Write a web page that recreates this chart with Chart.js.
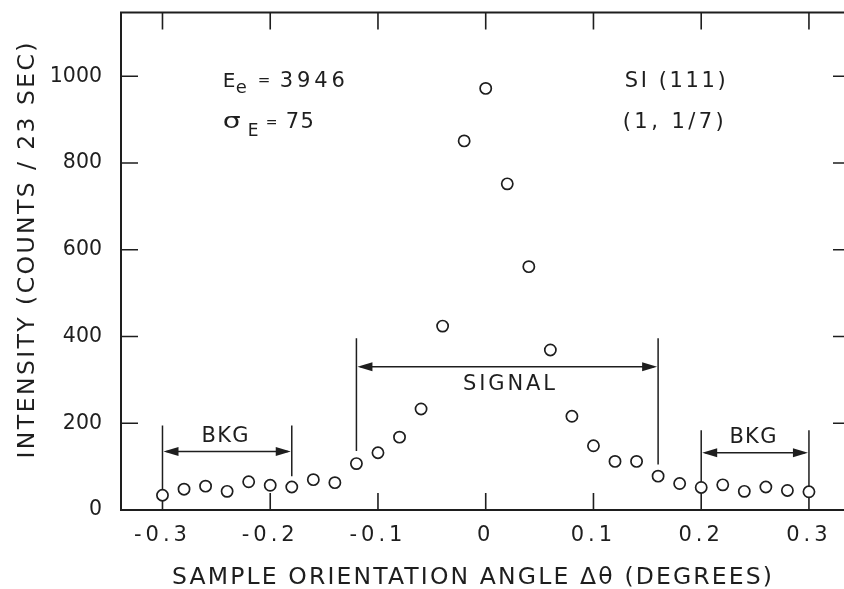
<!DOCTYPE html>
<html>
<head>
<meta charset="utf-8">
<script src="https://cdn.jsdelivr.net/npm/chart.js@4.4.1/dist/chart.umd.min.js"></script>
<style>
  html, body { margin: 0; padding: 0; background: #fff; overflow: hidden; width: 844px; height: 589px; }
  #wrap { width: 844px; height: 589px; overflow: hidden; position: relative; }
  #chart { position: absolute; left: 0; top: 0; }
</style>
</head>
<body>
<div id="wrap"><canvas id="chart" width="860" height="589"></canvas></div>
<script>
// Rocking curve: intensity vs. sample orientation angle
const angles = [-0.30, -0.28, -0.26, -0.24, -0.22, -0.20, -0.18, -0.16, -0.14, -0.12,
                -0.10, -0.08, -0.06, -0.04, -0.02, 0.00, 0.02, 0.04, 0.06, 0.08,
                 0.10, 0.12, 0.14, 0.16, 0.18, 0.20, 0.22, 0.24, 0.26, 0.28, 0.30];
const intensity = [34, 48, 55, 43, 65, 57, 53, 70, 63, 107,
                   132, 168, 233, 424, 851, 972, 752, 561, 369, 216,
                   148, 112, 112, 78, 61, 52, 58, 43, 53, 45, 42];

const xTickValues = [-0.3, -0.2, -0.1, 0, 0.1, 0.2, 0.3];
const xTickLabels = ['-0.3', '-0.2', '-0.1', '0', '0.1', '0.2', '0.3'];
const yTickValues = [0, 200, 400, 600, 800, 1000];
const yTickLabels = ['0', '200', '400', '600', '800', '1000'];

// Integration windows (angle limits, in degrees)
const signalWindow = [-0.12, 0.16];
const bkgLeftWindow = [-0.30, -0.18];
const bkgRightWindow = [0.20, 0.30];

const INK = '#1e1e1e';
const FONT = '"DejaVu Sans", Verdana, sans-serif';
const TICK_LEN = 17;

// Draws text spread out to a given overall width (lettering-style spacing)
function fitText(ctx, str, x, y, size, width, align) {
  ctx.save();
  ctx.font = size + 'px ' + FONT;
  ctx.letterSpacing = '0px';
  const n = [...str].length;
  const w0 = ctx.measureText(str).width;
  const spacing = n > 1 && width ? Math.max((width - w0) / (n - 1), 0) : 0;
  const w = w0 + spacing * (n - 1);
  ctx.letterSpacing = spacing + 'px';
  ctx.textAlign = 'left';
  ctx.textBaseline = 'alphabetic';
  ctx.fillStyle = INK;
  let sx = x;
  if (align === 'center') sx = x - w / 2;
  else if (align === 'right') sx = x - w;
  ctx.fillText(str, sx, y);
  ctx.restore();
  return w;
}

function arrowHead(ctx, x, y, dir) {
  // dir = -1 points left, +1 points right
  const len = 15, half = 4.5;
  ctx.beginPath();
  ctx.moveTo(x, y);
  ctx.lineTo(x - dir * len, y - half);
  ctx.lineTo(x - dir * len, y + half);
  ctx.closePath();
  ctx.fill();
}

function bracket(ctx, xs, ys, win, topVal, arrowVal, bottoms) {
  const x0 = xs.getPixelForValue(win[0]);
  const x1 = xs.getPixelForValue(win[1]);
  const yt = ys.getPixelForValue(topVal);
  const ya = ys.getPixelForValue(arrowVal);
  ctx.beginPath();
  ctx.moveTo(x0, yt); ctx.lineTo(x0, ys.getPixelForValue(bottoms[0]));
  ctx.moveTo(x1, yt); ctx.lineTo(x1, ys.getPixelForValue(bottoms[1]));
  ctx.moveTo(x0 + 4, ya); ctx.lineTo(x1 - 4, ya);
  ctx.stroke();
  arrowHead(ctx, x0 + 1, ya, -1);
  arrowHead(ctx, x1 - 1, ya, 1);
}

// Box frame, inward ticks and the integration brackets (under the points)
const framePlugin = {
  id: 'frame',
  beforeDatasetsDraw(chart) {
    const { ctx, chartArea: a, scales: { x, y } } = chart;
    ctx.save();
    ctx.strokeStyle = INK;
    ctx.fillStyle = INK;
    ctx.lineWidth = 2;
    ctx.strokeRect(a.left, a.top, a.right - a.left, a.bottom - a.top);
    ctx.lineWidth = 1.6;
    ctx.beginPath();
    for (const v of xTickValues) {
      const px = x.getPixelForValue(v);
      ctx.moveTo(px, a.bottom); ctx.lineTo(px, a.bottom - TICK_LEN);
      ctx.moveTo(px, a.top); ctx.lineTo(px, a.top + TICK_LEN);
    }
    for (const v of yTickValues) {
      if (v === 0) continue;
      const py = y.getPixelForValue(v);
      ctx.moveTo(a.left, py); ctx.lineTo(a.left + TICK_LEN, py);
      ctx.moveTo(a.right, py); ctx.lineTo(a.right - TICK_LEN, py);
    }
    ctx.stroke();

    ctx.lineWidth = 1.5;
    bracket(ctx, x, y, signalWindow, 396, 330, [136, 105]);
    bracket(ctx, x, y, bkgLeftWindow, 195, 135, [40, 78]);
    bracket(ctx, x, y, bkgRightWindow, 184, 132, [58, 48]);
    ctx.restore();
  },
  afterDraw(chart) {
    const { ctx, scales: { x, y } } = chart;
    // window labels
    fitText(ctx, 'SIGNAL', x.getPixelForValue(0.0216), y.getPixelForValue(277), 21, 92, 'center');
    fitText(ctx, 'BKG', x.getPixelForValue(-0.242), y.getPixelForValue(157), 21, 47, 'center');
    fitText(ctx, 'BKG', x.getPixelForValue(0.248), y.getPixelForValue(155), 21, 47, 'center');

    // beam energy and spread
    const ax = x.getPixelForValue(-0.244);
    let ay = y.getPixelForValue(976);
    fitText(ctx, 'E', ax, ay, 20, 0, 'left');
    fitText(ctx, 'e', ax + 13, ay + 6, 18, 0, 'left');
    fitText(ctx, '=', ax + 35, ay - 2, 15, 0, 'left');
    fitText(ctx, '3946', ax + 57, ay, 21, 65, 'left');
    ay = y.getPixelForValue(881);
    ctx.save();
    ctx.translate(ax, ay);
    ctx.scale(1.35, 1);
    fitText(ctx, 'σ', 0, 0, 21, 0, 'left');
    ctx.restore();
    fitText(ctx, 'E', ax + 25, ay + 8, 17, 0, 'left');
    fitText(ctx, '=', ax + 43, ay - 1, 14, 0, 'left');
    fitText(ctx, '75', ax + 63, ay, 21, 28, 'left');

    // crystal reflection
    const rx = x.getPixelForValue(0.129);
    fitText(ctx, 'SI (111)', rx, y.getPixelForValue(976), 21, 101, 'left');
    fitText(ctx, '(1, 1/7)', rx - 2, y.getPixelForValue(881), 21, 101, 'left');

    // axis titles
    fitText(ctx, 'SAMPLE ORIENTATION ANGLE Δθ (DEGREES)', 472, 584, 23.5, 600, 'center');
    ctx.save();
    ctx.translate(34, 250.5);
    ctx.rotate(-Math.PI / 2);
    fitText(ctx, 'INTENSITY (COUNTS / 23 SEC)', 0, 0, 23.5, 416, 'center');
    ctx.restore();
  }
};

// Letter spacing for the tick labels drawn by the scales
const tickSpacing = { x: 4, y: 0 };
const tickSpacingPlugin = {
  id: 'tickSpacing',
  beforeDraw(chart) {
    for (const id of ['x', 'y']) {
      const s = chart.scales[id];
      if (s.__spaced) continue;
      const orig = s.drawLabels;
      s.drawLabels = function (area) {
        const c = this.ctx;
        c.save();
        c.letterSpacing = tickSpacing[id] + 'px';
        orig.call(this, area);
        c.restore();
      };
      s.__spaced = true;
    }
  }
};

// Keep the plot box fixed: no extra room reserved for end labels
function noEdgePadding(s) {
  s.paddingTop = 0; s.paddingBottom = 0; s.paddingLeft = 0; s.paddingRight = 0;
}

new Chart(document.getElementById('chart'), {
  type: 'scatter',
  data: {
    datasets: [{
      data: angles.map((a, i) => ({ x: a, y: intensity[i] })),
      pointStyle: 'circle',
      pointRadius: 5.6,
      pointBorderWidth: 1.7,
      pointBorderColor: INK,
      pointBackgroundColor: '#fff',
      showLine: false
    }]
  },
  options: {
    responsive: false,
    animation: false,
    devicePixelRatio: 1,
    layout: { padding: { top: 12.5, right: 10, left: 0, bottom: 0 } },
    plugins: { legend: { display: false }, tooltip: { enabled: false } },
    scales: {
      x: {
        type: 'linear',
        min: -0.3385,
        max: 0.3381,
        grid: { display: false },
        border: { display: false },
        afterBuildTicks: s => { s.ticks = xTickValues.map(v => ({ value: v })); },
        afterFit: s => { s.height = 79; noEdgePadding(s); },
        ticks: {
          autoSkip: false,
          maxRotation: 0,
          padding: 5,
          color: INK,
          font: { family: FONT, size: 21 },
          callback: (v, i) => xTickLabels[i]
        }
      },
      y: {
        type: 'linear',
        min: 0,
        max: 1147,
        grid: { display: false },
        border: { display: false },
        afterBuildTicks: s => { s.ticks = yTickValues.map(v => ({ value: v })); },
        afterFit: s => { s.width = 121; noEdgePadding(s); },
        ticks: {
          autoSkip: false,
          padding: 11,
          color: INK,
          font: { family: FONT, size: 20.5 },
          callback: (v, i) => yTickLabels[i]
        }
      }
    }
  },
  plugins: [framePlugin, tickSpacingPlugin]
});
</script>
</body>
</html>
